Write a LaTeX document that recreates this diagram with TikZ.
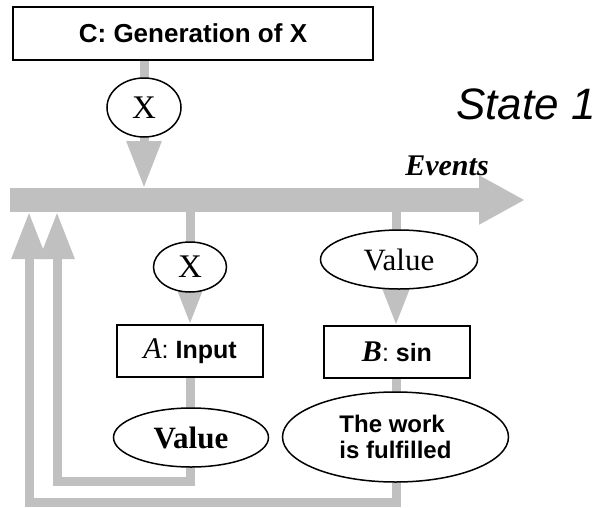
\documentclass[tikz,border=0pt]{standalone}
\usepackage{fontspec}
\setmainfont{Liberation Serif}
\newfontfamily\arialf{Liberation Sans}
\usetikzlibrary{arrows.meta,shapes.geometric,backgrounds}
\definecolor{barGray}{RGB}{192,192,192}
\tikzset{
  boxnode/.style={draw=black, line width=1.5pt, fill=white, rectangle, inner sep=0pt},
  ovalnode/.style={draw=black, line width=1.5pt, fill=white, ellipse, inner sep=0pt},
  conn/.style={draw=barGray, line width=9pt, line join=miter,
    -{Triangle[length=47pt,width=33pt]}},
  mainbar/.style={draw=barGray, line width=24pt,
    -{Triangle[length=46pt,width=46pt]}},
  serifx/.style={font=\fontsize{33}{36}\selectfont},
}
\begin{document}
\begin{tikzpicture}[x=1pt,y=-1pt]
\useasboundingbox (0,0) rectangle (603,507);
% nodes
\node[boxnode, minimum width=360pt, minimum height=53pt] (C) at (193,33.5)
  {\arialf\bfseries\fontsize{26}{30}\selectfont C: Generation of X};
\node[ovalnode, minimum width=74pt, minimum height=59pt, serifx] (X1) at (144,107.5) {X};
\node[ovalnode, minimum width=73pt, minimum height=50pt, serifx] (X2) at (190,267) {X};
\node[boxnode, minimum width=146pt, minimum height=52pt] (A) at (190,351)
  {\fontsize{30}{32}\selectfont\itshape A\upshape\arialf\fontsize{25}{29}\selectfont: \bfseries Input};
\node[ovalnode, minimum width=155pt, minimum height=59pt] (VA) at (191,437.5)
  {\fontsize{31}{34}\selectfont\bfseries Value};
\node[ovalnode, minimum width=157pt, minimum height=59pt] (VB) at (399,259.5)
  {\fontsize{31}{34}\selectfont Value};
\node[boxnode, minimum width=146pt, minimum height=52pt] (B) at (397,352)
  {\fontsize{30}{32}\selectfont\bfseries\itshape B\mdseries\upshape\arialf\fontsize{25}{29}\selectfont: \bfseries sin};
\node[ovalnode, minimum width=226pt, minimum height=90pt, align=left,
  font=\arialf\bfseries\fontsize{24}{26}\selectfont] (W) at (395.5,437)
  {The work\\is fulfilled};
\node (state) at (526,104) {\arialf\itshape\fontsize{44}{48}\selectfont State 1};
\node (events) at (447,166) {\fontsize{30}{32}\selectfont\bfseries\itshape Events};
% coordinates for the event bar
\coordinate (ev0) at (10,200);
\coordinate (ev1) at (525,200);
\coordinate (barTop) at (0,188);
\coordinate (barBot) at (0,207);
\coordinate (colA) at (190,0);
\coordinate (colB) at (396,0);
\coordinate (fbA) at (57,481.5);
\coordinate (fbB) at (29,502.5);
\begin{pgfonlayer}{background}
  \draw[mainbar] (ev0) -- (ev1);
  \draw[conn] (X1 |- C.south) -- (X1 |- barTop);
  \draw[conn] (colA |- barBot) -- (colA |- A.north);
  \draw[conn] (colB |- barBot) -- (colB |- B.north);
  \draw[conn] (A.south) |- (fbA) -- ([yshift=-5pt]fbA |- barBot);
  \draw[conn] (colB |- B.south) |- (fbB) -- ([yshift=-5pt]fbB |- barBot);
\end{pgfonlayer}
\end{tikzpicture}
\end{document}
